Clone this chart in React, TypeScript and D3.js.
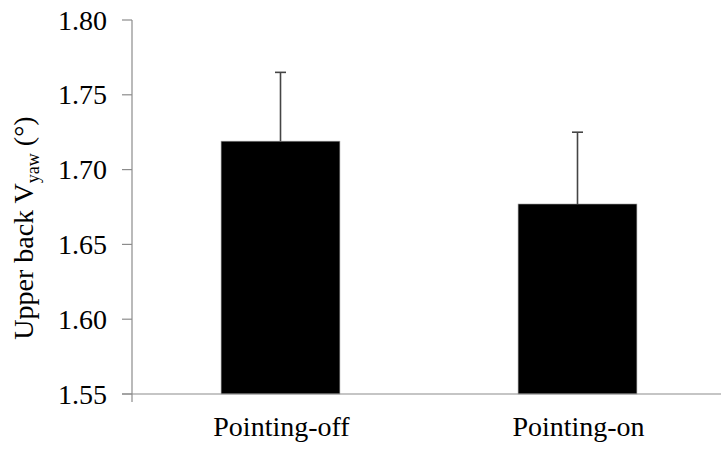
import React from "react";
import * as d3 from "d3";

const categories = ["Pointing-off", "Pointing-on"];
const means = [1.719, 1.677];
const errors = [0.046, 0.048];
const yTicks = [1.55, 1.6, 1.65, 1.7, 1.75, 1.8];

const W = 721;
const H = 453;
const FONT = "'Liberation Serif', 'Times New Roman', serif";
const FS = 28;

export default function App() {
  const y = d3.scaleLinear().domain([1.55, 1.8]).range([394, 20]);
  const x = d3
    .scaleBand<string>()
    .domain(categories)
    .range([132, 726])
    .paddingInner(0.6)
    .paddingOuter(0.3);
  const axisColor = "#8c8c8c";
  const baseY = y(1.55);

  return (
    <div style={{ position: "absolute", left: 0, top: 0 }}>
      <svg width={W} height={H} style={{ display: "block", background: "#fff" }}>
        {categories.map((c, i) => {
          const bx = x(c)!;
          const bw = x.bandwidth();
          const cx = bx + bw / 2;
          return (
            <g key={c}>
              <rect
                x={bx}
                y={y(means[i])}
                width={bw}
                height={baseY - y(means[i])}
                fill="#000"
                stroke="#9a9a9a"
                strokeWidth={0.6}
              />
              <line
                x1={cx}
                x2={cx}
                y1={y(means[i])}
                y2={y(means[i] + errors[i])}
                stroke="#454545"
                strokeWidth={1.6}
              />
              <line
                x1={cx - 5.5}
                x2={cx + 5.5}
                y1={y(means[i] + errors[i])}
                y2={y(means[i] + errors[i])}
                stroke="#454545"
                strokeWidth={1.6}
              />
            </g>
          );
        })}
        <line x1={132} x2={132} y1={y(1.8)} y2={402} stroke={axisColor} strokeWidth={1.2} />
        {yTicks.map((t) => (
          <g key={t}>
            <line x1={122} x2={132} y1={y(t)} y2={y(t)} stroke={axisColor} strokeWidth={1.2} />
            <text
              x={107}
              y={y(t)}
              dy="0.34em"
              textAnchor="end"
              fontFamily={FONT}
              fontSize={FS}
              fill="#000"
            >
              {d3.format(".2f")(t)}
            </text>
          </g>
        ))}
        <line x1={122} x2={W} y1={baseY} y2={baseY} stroke={axisColor} strokeWidth={1.2} />
        {categories.map((c) => (
          <text
            key={c}
            x={x(c)! + x.bandwidth() / 2 + 1}
            y={436}
            textAnchor="middle"
            fontFamily={FONT}
            fontSize={FS}
            fill="#000"
          >
            {c}
          </text>
        ))}
        <text
          transform={`translate(33, 228) rotate(-90)`}
          textAnchor="middle"
          fontFamily={FONT}
          fontSize={FS}
          fill="#000"
        >
          Upper back V
          <tspan fontSize={18} dy={6}>yaw</tspan>
          <tspan dy={-6}> (°)</tspan>
        </text>
      </svg>
    </div>
  );
}
